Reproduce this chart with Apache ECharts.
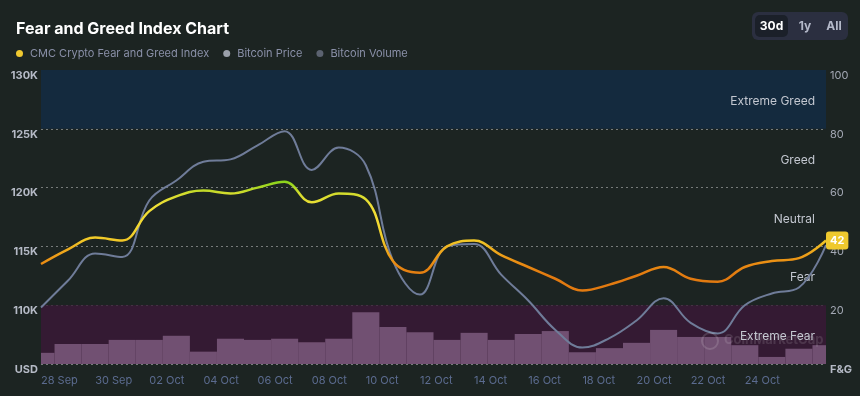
<!DOCTYPE html>
<html>
<head>
<meta charset="utf-8">
<script src="https://cdn.jsdelivr.net/npm/echarts@6/dist/echarts.min.js"></script>
<style>
  html, body { margin: 0; padding: 0; background: #1c2422; }
  #chart { width: 860px; height: 396px; }
</style>
</head>
<body>
<div id="chart"></div>
<script>
// daily points, 28 Sep -> 27 Oct
const dates = ['28 Sep', '29 Sep', '30 Sep', '01 Oct', '02 Oct', '03 Oct', '04 Oct', '05 Oct', '06 Oct', '07 Oct',
  '08 Oct', '09 Oct', '10 Oct', '11 Oct', '12 Oct', '13 Oct', '14 Oct', '15 Oct', '16 Oct', '17 Oct',
  '18 Oct', '19 Oct', '20 Oct', '21 Oct', '22 Oct', '23 Oct', '24 Oct', '25 Oct', '26 Oct', '27 Oct'];
const fearGreed = [34, 39, 43, 42, 52, 57, 59, 58, 60, 62, 55, 58, 56, 35, 31, 40, 42, 37, 33, 29,
  25, 27, 30, 33, 29, 28, 33, 35, 36, 42];
const btcPrice = [109800, 112100, 114400, 114100, 118900, 120600, 122200, 122400, 123600, 124800,
  121500, 123400, 121900, 113800, 110900, 115000, 115200, 112600, 110400, 107900,
  106400, 107200, 108700, 110600, 108500, 107600, 110000, 111000, 111500, 115100];
// billions USD
const btcVolume = [19, 34, 34, 41, 41, 48, 21, 43, 41, 43, 37, 43, 88, 63, 54, 41, 53, 41, 51, 56,
  20, 27, 36, 58, 46, 46, 32, 12, 26, 32];
const zones = [
  { name: 'Extreme Greed', from: 80, to: 100, color: '#142a3e' },
  { name: 'Greed', from: 60, to: 80, color: 'transparent' },
  { name: 'Neutral', from: 40, to: 60, color: 'transparent' },
  { name: 'Fear', from: 20, to: 40, color: 'transparent' },
  { name: 'Extreme Fear', from: 0, to: 20, color: '#341a33' }
];

const chart = echarts.init(document.getElementById('chart'));

// volume bars centred on each day, cut at the grid edges
function renderVolume(params, api) {
  const top = api.coord([api.value(0), api.value(1)]);
  const base = api.coord([api.value(0), 0]);
  const w = api.size([1, 0])[0];
  const cs = params.coordSys;
  const shape = echarts.graphic.clipRectByRect(
    { x: top[0] - w / 2, y: top[1], width: w, height: base[1] - top[1] },
    { x: cs.x, y: cs.y, width: cs.width, height: cs.height }
  );
  return shape && { type: 'rect', shape: shape, style: { fill: '#715072' } };
}

const option = {
  backgroundColor: '#1c2422',
  animation: false,
  textStyle: { fontFamily: 'Inter' },
  title: {
    text: 'Fear and Greed Index Chart',
    left: 11, top: 16,
    textStyle: { color: '#ffffff', fontSize: 16, fontWeight: 'bold', fontFamily: 'Inter' }
  },
  legend: {
    left: 11, top: 43,
    icon: 'circle',
    itemWidth: 7, itemHeight: 7,
    itemGap: 14,
    selectedMode: false,
    textStyle: { color: '#8a90a8', fontSize: 11, padding: [0, 0, 0, 2] },
    data: [
      { name: 'CMC Crypto Fear and Greed Index', itemStyle: { color: '#f0c930' } },
      { name: 'Bitcoin Price', itemStyle: { color: '#9aa0aa' } },
      { name: 'Bitcoin Volume', itemStyle: { color: '#5b6270' } }
    ]
  },
  grid: { left: 41, right: 34, top: 70, bottom: 32 },
  visualMap: {
    type: 'continuous',
    show: false,
    seriesIndex: 3,
    min: 30, max: 62,
    inRange: {
      color: ['#e27a10', '#e98a12', '#eea51b', '#f1c727', '#f2d630', '#f2dc35', '#eedf36', '#d3dc2d', '#8bd41c']
    }
  },
  xAxis: {
    type: 'category',
    data: dates,
    boundaryGap: false,
    axisLine: { show: false },
    axisTick: { show: false },
    axisLabel: {
      interval: (i) => i % 2 === 0 && i < 28,
      align: 'left',
      color: '#5b6b8f',
      fontSize: 11,
      margin: 11
    }
  },
  yAxis: [
    {
      type: 'value', position: 'left',
      min: 105000, max: 130000, interval: 5000,
      axisLine: { show: false }, axisTick: { show: false },
      splitLine: { lineStyle: { color: 'rgba(255,255,255,0.4)', type: [2, 3], width: 1 } },
      axisLabel: {
        color: '#b5bac6', fontSize: 11, fontWeight: 'bold', margin: 3,
        verticalAlign: 'top',
        formatter: (v) => v === 105000 ? 'USD' : (v / 1000) + 'K'
      }
    },
    {
      type: 'value', position: 'right',
      min: 0, max: 100, interval: 20,
      axisLine: { show: false }, axisTick: { show: false },
      splitLine: { show: false },
      axisLabel: {
        color: '#a3a8b4', fontSize: 11, margin: 4,
        verticalAlign: 'top',
        formatter: (v) => v === 0 ? '{b|F&G}' : String(v),
        rich: { b: { fontWeight: 'bold', color: '#b5bac6', fontSize: 11 } }
      }
    },
    {
      type: 'value', show: false, min: 0, max: 500
    }
  ],
  series: [
    {
      // sentiment bands
      type: 'line', yAxisIndex: 1, data: [], z: 0, silent: true,
      markArea: {
        silent: true,
        label: { position: 'insideRight', distance: 11, offset: [0, 2], color: '#c3c7d0', fontSize: 12 },
        data: zones.map(z => [
          { name: z.name, yAxis: z.from, itemStyle: { color: z.color } },
          { yAxis: z.to }
        ])
      }
    },
    {
      name: 'Bitcoin Volume',
      type: 'custom', yAxisIndex: 2, z: 1,
      data: btcVolume.map((v, i) => [i, v]),
      encode: { x: 0, y: 1 },
      renderItem: renderVolume,
      itemStyle: { color: '#5b6270' }
    },
    {
      name: 'Bitcoin Price',
      type: 'line', yAxisIndex: 0, z: 2,
      data: btcPrice,
      smooth: 0.4,
      showSymbol: false,
      lineStyle: { color: '#6f7c99', width: 2 },
      itemStyle: { color: '#6f7c99' }
    },
    {
      name: 'CMC Crypto Fear and Greed Index',
      type: 'line', yAxisIndex: 1, z: 3,
      data: fearGreed,
      smooth: 0.4,
      showSymbol: false,
      lineStyle: { width: 2.5 },
      itemStyle: { color: '#f0c930' },
      endLabel: {
        show: true,
        formatter: (p) => String(p.value),
        backgroundColor: '#efc92e',
        color: '#ffffff',
        fontWeight: 'bold',
        fontSize: 11,
        padding: [4, 4, 3, 4],
        borderRadius: 3,
        distance: 0
      }
    }
  ],
  graphic: [
    {
      type: 'text', left: 724, top: 334, silent: true, z: 5,
      style: { text: 'CoinMarketCap', fill: 'rgba(255,255,255,0.12)', fontSize: 13, fontWeight: 'bold', fontFamily: 'Inter' }
    },
    {
      type: 'circle', shape: { cx: 710, cy: 341, r: 8 }, silent: true, z: 5,
      style: { fill: 'none', stroke: 'rgba(255,255,255,0.14)', lineWidth: 2 }
    },
    {
      type: 'rect', shape: { x: 752, y: 12, width: 96, height: 28, r: 6 },
      style: { fill: '#2b2f40' }
    },
    {
      type: 'rect', shape: { x: 755, y: 15, width: 33, height: 22, r: 5 },
      style: { fill: '#1b2029' }
    },
    {
      type: 'text', x: 771.5, y: 26,
      style: { text: '30d', fill: '#ffffff', fontSize: 12, fontWeight: 'bold', align: 'center', verticalAlign: 'middle', fontFamily: 'Inter' }
    },
    {
      type: 'text', x: 805, y: 26,
      style: { text: '1y', fill: '#b3b8c8', fontSize: 12, fontWeight: 'bold', align: 'center', verticalAlign: 'middle', fontFamily: 'Inter' }
    },
    {
      type: 'text', x: 834, y: 26,
      style: { text: 'All', fill: '#b3b8c8', fontSize: 12, fontWeight: 'bold', align: 'center', verticalAlign: 'middle', fontFamily: 'Inter' }
    }
  ]
};

chart.setOption(option);
</script>
</body>
</html>
